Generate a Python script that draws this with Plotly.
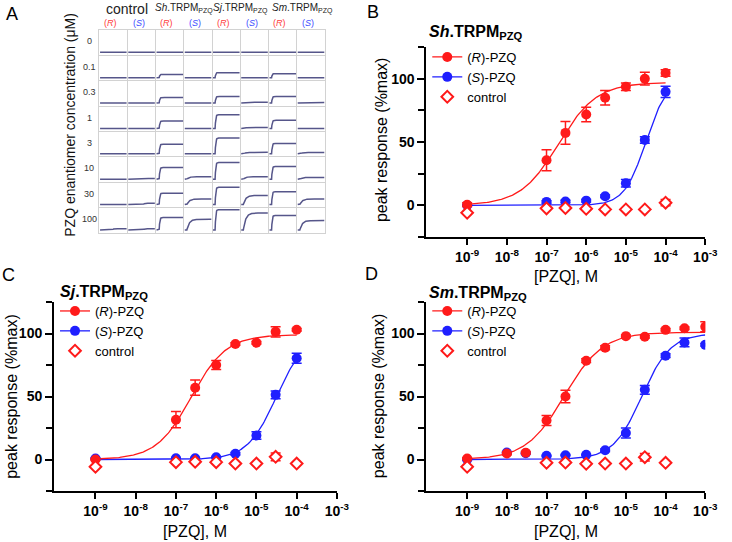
import numpy as np
import plotly.graph_objects as go

W, H = 732, 542
def px(x): return x / W
def py(y): return 1 - y / H

FONT = "Arial, Liberation Sans, sans-serif"
RED = "#ff1a1a"
BLUE = "#1f1fff"
TRACE = "#56568a"

# ---------------- Panel A data ----------------
conc_labels = ["0", "0.1", "0.3", "1", "3", "10", "30", "100"]
group_labels = ["control", "<i>Sh</i>.TRPM<sub>PZQ</sub>",
                "<i>Sj</i>.TRPM<sub>PZQ</sub>", "<i>Sm</i>.TRPM<sub>PZQ</sub>"]
enantiomers = ["R", "S", "R", "S", "R", "S", "R", "S"]
# step amplitude of each trace (fraction of cell height), rows = concentration, cols = construct/enantiomer
step_amp = [
    [0.00, 0.00, 0.00, 0.00, 0.00, 0.00, 0.00, 0.00],
    [0.00, 0.00, 0.13, 0.00, 0.20, 0.00, 0.16, 0.00],
    [0.00, 0.00, 0.22, 0.00, 0.26, 0.03, 0.26, 0.02],
    [0.00, 0.00, 0.29, 0.00, 0.54, 0.04, 0.32, 0.00],
    [0.00, 0.00, 0.38, 0.00, 0.62, 0.06, 0.41, 0.05],
    [0.00, 0.03, 0.46, 0.10, 0.66, 0.10, 0.50, 0.07],
    [0.00, 0.05, 0.45, 0.22, 0.68, 0.36, 0.51, 0.22],
    [0.05, 0.05, 0.49, 0.42, 0.80, 0.67, 0.57, 0.37],
]
onset = [0.45, 0.55, 0.10, 0.08, 0.08, 0.08, 0.08, 0.08]
rise_tau = [0.05, 0.05, 0.02, 0.09, 0.02, 0.09, 0.02, 0.09]

# ---------------- Panels B-D data ----------------
tick_exps = [-9, -8, -7, -6, -5, -4, -3]

conc_B = [1e-9, 1e-7, 3e-7, 1e-6, 3e-6, 1e-5, 3e-5, 1e-4]
B_R = [0.5, 35.6, 57.2, 71.7, 85.0, 93.6, 100.0, 104.5]
B_R_err = [1.5, 8.3, 9.0, 5.7, 5.7, 3.0, 5.0, 2.5]
B_S = [0.0, 2.7, 3.0, 3.7, 7.2, 17.4, 51.6, 89.6]
B_S_err = [0.5, 1.0, 1.0, 1.0, 1.0, 3.0, 2.5, 4.5]
B_ctrl = [-5.9, -2.4, -2.1, -2.7, -3.2, -3.2, -3.2, 2.1]
B_ctrl_err = [0, 0, 0, 0, 0, 0, 0, 2.5]
B_fit_R = [0, 97, -6.7, 0.9]     # bottom, top, logEC50, hill
B_fit_S = [0, 100, -4.5, 1.6]

conc_C = [1e-9, 1e-7, 3e-7, 1e-6, 3e-6, 1e-5, 3e-5, 1e-4]
C_R = [0.0, 31.6, 57.0, 75.0, 91.6, 92.6, 101.3, 103.0]
C_R_err = [0.5, 6.5, 6.0, 3.5, 1.0, 1.0, 4.0, 1.0]
C_S = [0.8, 1.0, 1.0, 1.8, 4.5, 19.0, 51.3, 80.3]
C_S_err = [0.5, 0.5, 0.5, 0.5, 1.0, 3.0, 3.0, 4.0]
C_ctrl = [-5.8, -2.1, -1.8, -2.1, -3.2, -3.2, 2.1, -3.2]
C_ctrl_err = [0, 0, 0, 0, 0, 0, 3.0, 0]
C_fit_R = [0, 99, -6.62, 1.0]
C_fit_S = [0, 100, -4.5, 1.2]

conc_D = [1e-9, 1e-8, 3e-8, 1e-7, 3e-7, 1e-6, 3e-6, 1e-5, 3e-5, 1e-4, 3e-4, 1e-3]
D_R = [0.8, 4.7, 5.3, 31.0, 50.0, 78.4, 88.7, 97.9, 97.4, 102.9, 104.2, 105.3]
D_R_err = [0.5, 1.0, 1.0, 4.0, 5.0, 1.5, 1.5, 1.0, 1.0, 1.0, 1.0, 4.0]
D_S = [0.0, 5.5, 5.0, 2.9, 3.4, 3.7, 7.4, 21.0, 55.3, 82.4, 92.9, 91.0]
D_S_err = [0.5, 0.5, 0.5, 0.5, 0.5, 0.5, 1.0, 4.0, 3.5, 1.5, 3.5, 1.0]
conc_D_ctrl = [1e-9, 1e-7, 3e-7, 1e-6, 3e-6, 1e-5, 3e-5, 1e-4]
D_ctrl = [-5.8, -2.6, -2.4, -3.4, -3.2, -3.2, 1.8, -2.6]
D_ctrl_err = [0, 0, 0, 0, 0, 0, 3.0, 0]
D_fit_R = [0, 101, -6.55, 0.9]
D_fit_S = [0, 100, -4.6, 1.2]

fig = go.Figure()

# ---------------- Panel A traces ----------------
t = np.linspace(0, 1, 90)
ax_x, ax_y = [], []
for i in range(len(conc_labels)):
    for j in range(len(enantiomers)):
        amp = step_amp[i][j]
        resp = np.where(t >= onset[j], amp * (1 - np.exp(-(t - onset[j]) / rise_tau[j])), 0.0)
        xs = j + 0.03 + 0.94 * t
        ys = (7 - i) + 0.12 + resp
        ax_x += list(xs) + [None]
        ax_y += list(ys) + [None]
fig.add_trace(go.Scatter(x=ax_x, y=ax_y, mode="lines", xaxis="x4", yaxis="y4",
                         line=dict(color=TRACE, width=1.5), showlegend=False,
                         hoverinfo="skip"))

# ---------------- Panels B-D ----------------
def hill(x, p):
    b, top, lec, h = p
    return b + (top - b) / (1 + 10 ** ((lec - np.log10(x)) * h))

panels = [
    dict(ax="", legend="legend", conc=conc_B, R=B_R, Re=B_R_err, S=B_S, Se=B_S_err,
         cconc=conc_B, C=B_ctrl, Ce=B_ctrl_err, fR=B_fit_R, fS=B_fit_S, fmax=1e-4),
    dict(ax="2", legend="legend2", conc=conc_C, R=C_R, Re=C_R_err, S=C_S, Se=C_S_err,
         cconc=conc_C, C=C_ctrl, Ce=C_ctrl_err, fR=C_fit_R, fS=C_fit_S, fmax=1e-4),
    dict(ax="3", legend="legend3", conc=conc_D, R=D_R, Re=D_R_err, S=D_S, Se=D_S_err,
         cconc=conc_D_ctrl, C=D_ctrl, Ce=D_ctrl_err, fR=D_fit_R, fS=D_fit_S, fmax=1e-3),
]

for p in panels:
    xa, ya = "x" + p["ax"], "y" + p["ax"]
    xf = np.logspace(-9, np.log10(p["fmax"]), 200)
    fig.add_trace(go.Scatter(x=xf, y=hill(xf, p["fS"]), mode="lines", xaxis=xa, yaxis=ya,
                             line=dict(color=BLUE, width=1.3), showlegend=False))
    fig.add_trace(go.Scatter(x=xf, y=hill(xf, p["fR"]), mode="lines", xaxis=xa, yaxis=ya,
                             line=dict(color=RED, width=1.3), showlegend=False))
    fig.add_trace(go.Scatter(x=p["conc"], y=p["S"], mode="markers", xaxis=xa, yaxis=ya,
                             marker=dict(color=BLUE, size=10),
                             error_y=dict(type="data", array=p["Se"], color=BLUE, thickness=1.5, width=5),
                             showlegend=False))
    fig.add_trace(go.Scatter(x=p["conc"], y=p["R"], mode="markers", xaxis=xa, yaxis=ya,
                             marker=dict(color=RED, size=10),
                             error_y=dict(type="data", array=p["Re"], color=RED, thickness=1.5, width=5),
                             showlegend=False))
    fig.add_trace(go.Scatter(x=p["cconc"], y=p["C"], mode="markers", xaxis=xa, yaxis=ya,
                             marker=dict(color="white", size=9, symbol="diamond",
                                         line=dict(color=RED, width=2)),
                             error_y=dict(type="data", array=p["Ce"], color=RED, thickness=1.5, width=5),
                             showlegend=False))
    # legend entries
    fig.add_trace(go.Scatter(x=[None], y=[None], mode="lines+markers", xaxis=xa, yaxis=ya,
                             name="(<i>R</i>)-PZQ", legend=p["legend"],
                             line=dict(color=RED, width=1.3), marker=dict(color=RED, size=10)))
    fig.add_trace(go.Scatter(x=[None], y=[None], mode="lines+markers", xaxis=xa, yaxis=ya,
                             name="(<i>S</i>)-PZQ", legend=p["legend"],
                             line=dict(color=BLUE, width=1.3), marker=dict(color=BLUE, size=10)))
    fig.add_trace(go.Scatter(x=[None], y=[None], mode="markers", xaxis=xa, yaxis=ya,
                             name="control", legend=p["legend"],
                             marker=dict(color="white", size=9, symbol="diamond",
                                         line=dict(color=RED, width=2))))

tickvals = [10.0 ** e for e in tick_exps]
ticktext = ["10<sup>%d</sup>" % e for e in tick_exps]

def xaxis_def(x0, x1, anchor):
    return dict(domain=[px(x0), px(x1)], anchor=anchor, type="log", range=[-10.03, -3],
                tickvals=tickvals, ticktext=ticktext,
                tickfont=dict(family=FONT, size=14, color="black", weight="bold"),
                ticks="outside", ticklen=6, tickwidth=2, tickcolor="black",
                showline=True, linewidth=2, linecolor="black",
                showgrid=False, zeroline=False)

def yaxis_def(y0, y1, anchor):
    return dict(domain=[py(y1), py(y0)], anchor=anchor, range=[-25, 125],
                tickvals=[0, 50, 100], ticktext=["0", "50", "100"],
                tickfont=dict(family=FONT, size=14, color="black", weight="bold"),
                ticks="outside", ticklen=7, tickwidth=2, tickcolor="black",
                minor=dict(tickvals=[-25, 25, 75, 125], ticks="outside", ticklen=6,
                           tickwidth=2, tickcolor="black"),
                showline=True, linewidth=2, linecolor="black",
                showgrid=False, zeroline=False)

legend_common = dict(bgcolor="rgba(0,0,0,0)", font=dict(family=FONT, size=13, color="black"),
                     itemwidth=30, xanchor="left", yanchor="top", tracegroupgap=0,
                     borderwidth=0)

fig.update_layout(
    width=W, height=H, margin=dict(l=0, r=0, t=0, b=0),
    paper_bgcolor="white", plot_bgcolor="white",
    font=dict(family=FONT, color="black"),
    xaxis=xaxis_def(434, 718, "y"),
    yaxis=yaxis_def(47, 237, "x"),
    xaxis2=xaxis_def(55, 343, "y2"),
    yaxis2=yaxis_def(302, 491, "x2"),
    xaxis3=xaxis_def(434, 718, "y3"),
    yaxis3=yaxis_def(302, 491, "x3"),
    xaxis4=dict(domain=[px(101), px(331)], anchor="y4", range=[0, 8], dtick=1, tick0=0,
                showgrid=True, gridcolor="#d2d2d2", gridwidth=1, showticklabels=False,
                ticks="", zeroline=False, showline=True, mirror=True, linecolor="#d2d2d2",
                linewidth=1),
    yaxis4=dict(domain=[py(233), py(30)], anchor="x4", range=[0, 8], dtick=1, tick0=0,
                showgrid=True, gridcolor="#d2d2d2", gridwidth=1, showticklabels=False,
                ticks="", zeroline=False, showline=True, mirror=True, linecolor="#d2d2d2",
                linewidth=1),
    legend=dict(x=px(435), y=py(42), **legend_common),
    legend2=dict(x=px(56), y=py(296), **legend_common),
    legend3=dict(x=px(435), y=py(296), **legend_common),
)

ann = []
# panel letters
for letter, x, y in [("A", 12, 14), ("B", 380, 12), ("C", 9, 275), ("D", 378, 274)]:
    ann.append(dict(text=letter, x=px(x), y=py(y), xref="paper", yref="paper",
                    showarrow=False, font=dict(family=FONT, size=18, color="black"),
                    xanchor="center", yanchor="middle"))
# panel titles
for txt, x, y in [("<b><i>Sh</i>.TRPM<sub>PZQ</sub></b>", 435, 33),
                  ("<b><i>Sj</i>.TRPM<sub>PZQ</sub></b>", 59, 292),
                  ("<b><i>Sm</i>.TRPM<sub>PZQ</sub></b>", 435, 293)]:
    ann.append(dict(text=txt, x=px(x), y=py(y), xref="paper", yref="paper", showarrow=False,
                    font=dict(family=FONT, size=16, color="black"), xanchor="left", yanchor="middle"))
# axis titles
for x, y in [(388, 140), (11, 396), (385, 396)]:
    ann.append(dict(text="peak response (%max)", x=px(x), y=py(y), xref="paper", yref="paper",
                    showarrow=False, textangle=-90, font=dict(family=FONT, size=16, color="black"),
                    xanchor="center", yanchor="middle"))
for x, y in [(576, 276), (199, 531), (576, 531)]:
    ann.append(dict(text="[PZQ], M", x=px(x), y=py(y), xref="paper", yref="paper",
                    showarrow=False, font=dict(family=FONT, size=16, color="black"),
                    xanchor="center", yanchor="middle"))
# panel A labels
ann.append(dict(text="PZQ enantiomer concentration (μM)", x=px(71), y=py(125), xref="paper",
                yref="paper", showarrow=False, textangle=-90,
                font=dict(family=FONT, size=14, color="#111"), xanchor="center", yanchor="middle"))
for i, lab in enumerate(conc_labels):
    ann.append(dict(text=lab, x=px(91), y=7 - i + 0.55, xref="paper", yref="y4", showarrow=False,
                    font=dict(family=FONT, size=9, color="#333"), xanchor="center", yanchor="middle"))
group_x = [1.0, 3.0, 5.0, 7.2]
for g, lab in enumerate(group_labels):
    size = 14 if g == 0 else 10
    ann.append(dict(text=lab, x=group_x[g], y=py(9), xref="x4", yref="paper", showarrow=False,
                    font=dict(family=FONT, size=size, color="#222"), xanchor="center", yanchor="middle"))
for j, e in enumerate(enantiomers):
    col = "#ff3b3b" if e == "R" else "#3b4bff"
    ann.append(dict(text="(<i>%s</i>)" % e, x=j + 0.4, y=py(23), xref="x4", yref="paper",
                    showarrow=False, font=dict(family=FONT, size=9, color=col),
                    xanchor="center", yanchor="middle"))
fig.update_layout(annotations=ann)

fig.write_html("out.html", config={"displayModeBar": False},
               post_script="document.body.style.margin='0';")
